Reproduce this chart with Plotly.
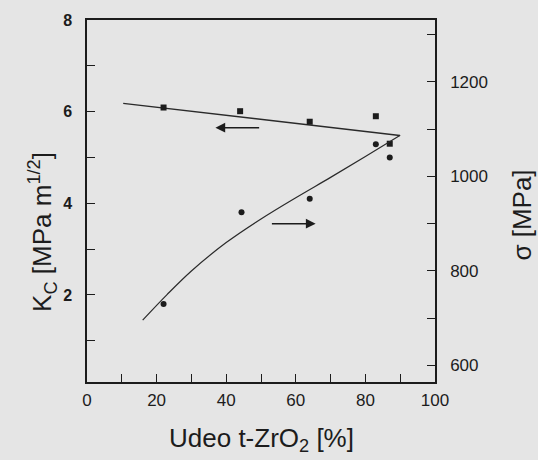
import plotly.graph_objects as go

# Fraction of tetragonal zirconia, t-ZrO2 [%]
kc_x = [22, 44, 64, 83, 87]
kc_val = [6.09, 6.01, 5.78, 5.90, 5.30]          # fracture toughness K_C [MPa m^1/2]

sig_x = [22, 44.4, 64, 83, 87]
sig_val = [730, 924, 953, 1068, 1040]            # bending strength sigma [MPa]

# Fitted trends drawn through the measurements
kc_fit_x = [10.4, 89.9]
kc_fit_val = [6.18, 5.48]

sig_fit_x = [16, 23, 30, 40, 50, 60, 70, 80, 90]
sig_fit_val = [696, 750, 800, 860, 910, 955, 998, 1042, 1087]

x_ticks = [0, 20, 40, 60, 80, 100]
kc_ticks = [2, 4, 6, 8]
sig_ticks = [600, 800, 1000, 1200]

INK = "#1c1c1c"
BG = "#e5e5e5"
FONT = "Liberation Sans, Arial, sans-serif"

fig = go.Figure()

fig.add_trace(go.Scatter(x=kc_fit_x, y=kc_fit_val, mode="lines",
                         line=dict(color="#2a2a2a", width=1.4), showlegend=False))
fig.add_trace(go.Scatter(x=kc_x, y=kc_val, mode="markers",
                         marker=dict(symbol="square", size=6, color=INK), showlegend=False))

fig.add_trace(go.Scatter(x=sig_fit_x, y=sig_fit_val, mode="lines", yaxis="y2",
                         line=dict(color="#2a2a2a", width=1.2, shape="spline", smoothing=1.0),
                         showlegend=False))
fig.add_trace(go.Scatter(x=sig_x, y=sig_val, mode="markers", yaxis="y2",
                         marker=dict(symbol="circle", size=6, color=INK), showlegend=False))

axis_common = dict(
    showgrid=False, zeroline=False, showline=True, linecolor=INK, linewidth=1.5,
    ticks="inside", ticklen=8, tickwidth=1.3, tickcolor=INK,
)

fig.update_layout(
    width=538, height=460,
    margin=dict(l=87, r=103, t=13, b=78),
    paper_bgcolor=BG, plot_bgcolor=BG,
    font=dict(family=FONT, color=INK),
    xaxis=dict(range=[0, 100], tickvals=x_ticks, mirror=True, ticklabelstandoff=2,
               minor=dict(dtick=10, ticks="inside", ticklen=8, tickwidth=1.3, tickcolor=INK),
               tickfont=dict(size=17, family=FONT, color=INK), **axis_common),
    yaxis=dict(range=[0.1, 8.0], tickvals=kc_ticks, mirror=True, ticklabelstandoff=10,
               minor=dict(dtick=1, ticks="inside", ticklen=8, tickwidth=1.3, tickcolor=INK),
               tickfont=dict(size=16, family=FONT, color=INK, weight="bold"), **axis_common),
    yaxis2=dict(range=[565, 1331], tickvals=sig_ticks, overlaying="y", side="right",
                ticklabelstandoff=10,
                minor=dict(dtick=100, ticks="inside", ticklen=8, tickwidth=1.3, tickcolor=INK),
                tickfont=dict(size=17, family=FONT, color=INK), **axis_common),
)

# Arrows pointing each curve to its axis
fig.add_annotation(x=36.9, y=5.65, ax=49.9, ay=5.65, xref="x", yref="y", axref="x", ayref="y",
                   showarrow=True, arrowhead=2, arrowsize=1.3, arrowwidth=1.5, arrowcolor=INK, text="")
fig.add_annotation(x=65.7, y=900, ax=52.7, ay=900, xref="x", yref="y2", axref="x", ayref="y2",
                   showarrow=True, arrowhead=2, arrowsize=1.3, arrowwidth=1.5, arrowcolor=INK, text="")

# Axis titles
fig.add_annotation(text="Udeo t-ZrO<sub>2</sub> [%]", xref="paper", yref="paper",
                   x=0.5, y=-0.16, xanchor="center", yanchor="middle", showarrow=False,
                   font=dict(size=26, family=FONT, color=INK))
fig.add_annotation(text="K<sub>C</sub> [MPa m<sup>1/2</sup>]", xref="paper", yref="paper",
                   x=-0.129, y=0.415, xanchor="center", yanchor="middle", showarrow=False,
                   textangle=-90, font=dict(size=26, family=FONT, color=INK))
fig.add_annotation(text="σ [MPa]", xref="paper", yref="paper",
                   x=1.249, y=0.4615, xanchor="center", yanchor="middle", showarrow=False,
                   textangle=-90, font=dict(size=26, family=FONT, color=INK))

fig.write_html("out.html")
